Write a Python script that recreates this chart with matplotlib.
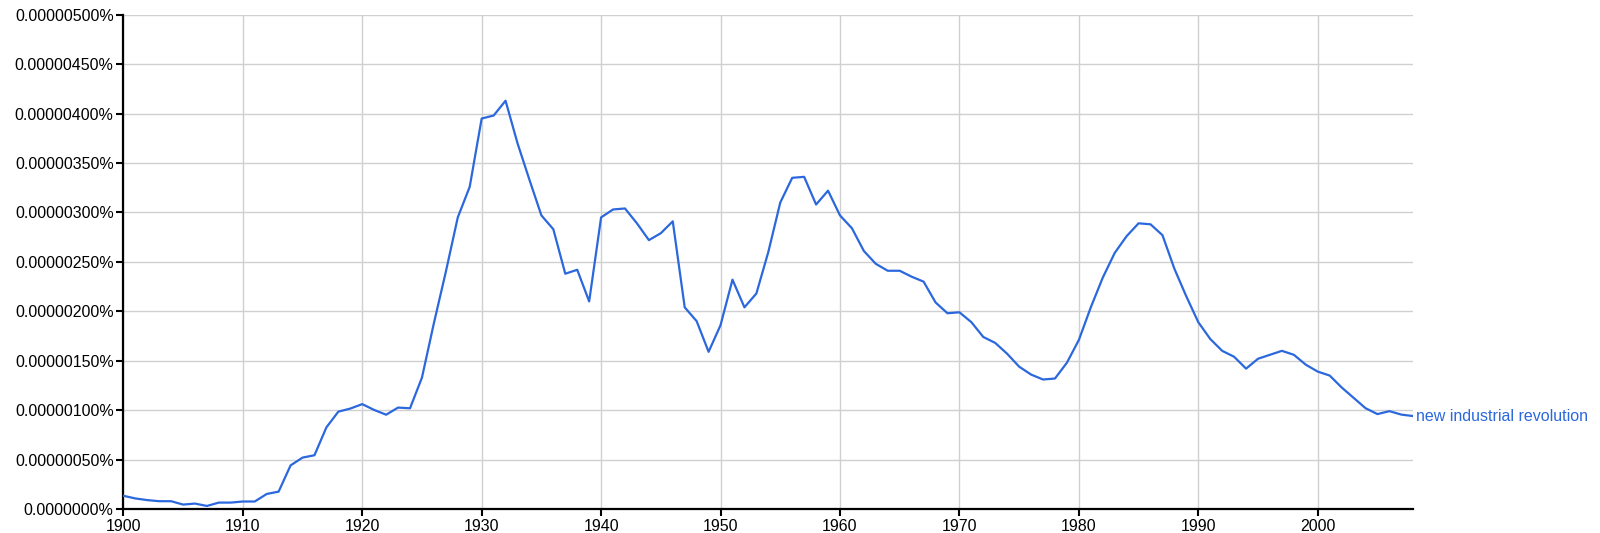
"""
ngram style frequency chart for 'new industrial revolution'
"""
import numpy as np
import matplotlib as mpl
mpl.use('Agg')
import matplotlib.pyplot as plt

plt.rcParams['font.family'] = ['Liberation Sans', 'DejaVu Sans']

phrase = 'new industrial revolution'
years = np.arange(1900, 2009)

# values in units of 0.000001 %
freq = [0.134, 0.107, 0.090, 0.079, 0.079, 0.045, 0.055, 0.031, 0.065, 0.065,
        0.076, 0.076, 0.152, 0.176, 0.441, 0.520, 0.544, 0.826, 0.985, 1.016,
        1.061, 1.002, 0.954, 1.026, 1.019, 1.329, 1.880, 2.400, 2.950, 3.260,
        3.950, 3.980, 4.130, 3.700, 3.330, 2.970, 2.830, 2.380, 2.420, 2.100,
        2.950, 3.030, 3.040, 2.890, 2.720, 2.790, 2.910, 2.040, 1.900, 1.590,
        1.860, 2.320, 2.040, 2.180, 2.600, 3.100, 3.350, 3.360, 3.080, 3.220,
        2.970, 2.840, 2.610, 2.480, 2.410, 2.410, 2.350, 2.300, 2.090, 1.980,
        1.990, 1.890, 1.740, 1.680, 1.570, 1.440, 1.360, 1.310, 1.320, 1.480,
        1.710, 2.040, 2.340, 2.590, 2.760, 2.890, 2.880, 2.770, 2.430, 2.150,
        1.890, 1.720, 1.600, 1.540, 1.420, 1.520, 1.560, 1.600, 1.560, 1.460,
        1.390, 1.350, 1.230, 1.125, 1.020, 0.960, 0.990, 0.955, 0.940]

y_ticks = [0, 0.5, 1.0, 1.5, 2.0, 2.5, 3.0, 3.5, 4.0, 4.5, 5.0]
y_ticklabels = ['0.0000000%', '0.00000050%', '0.00000100%', '0.00000150%',
                '0.00000200%', '0.00000250%', '0.00000300%', '0.00000350%',
                '0.00000400%', '0.00000450%', '0.00000500%']
x_ticks = [1900, 1910, 1920, 1930, 1940, 1950, 1960, 1970, 1980, 1990, 2000]

line_color = '#2b68dd'


def main():
    fig = plt.figure(figsize=(16, 5.33), dpi=100)
    ax = fig.add_axes([0.0771, 0.045, 0.8062, 0.9274])

    ax.plot(years, freq, color=line_color, lw=1.6, zorder=3)
    ax.annotate(phrase, xy=(years[-1], freq[-1]), xytext=(2, 0),
                textcoords='offset points', va='center', ha='left',
                color=line_color, fontsize=11.5, annotation_clip=False)

    ax.set_xlim(1900, 2008)
    ax.set_ylim(0, 5.0)
    ax.set_xticks(x_ticks)
    ax.set_yticks(y_ticks)
    ax.set_yticklabels(y_ticklabels)
    ax.tick_params(axis='both', labelsize=11.5, colors='black', length=5,
                   width=1.5, pad=2)
    ax.grid(True, color='#d0d0d0', lw=1.0, zorder=0)
    ax.set_axisbelow(True)

    for s in ['top', 'right']:
        ax.spines[s].set_visible(False)
    ax.spines['left'].set_linewidth(1.6)
    ax.spines['bottom'].set_linewidth(1.6)

    fig.savefig('out.png', dpi=100)


if __name__ == '__main__':
    main()
